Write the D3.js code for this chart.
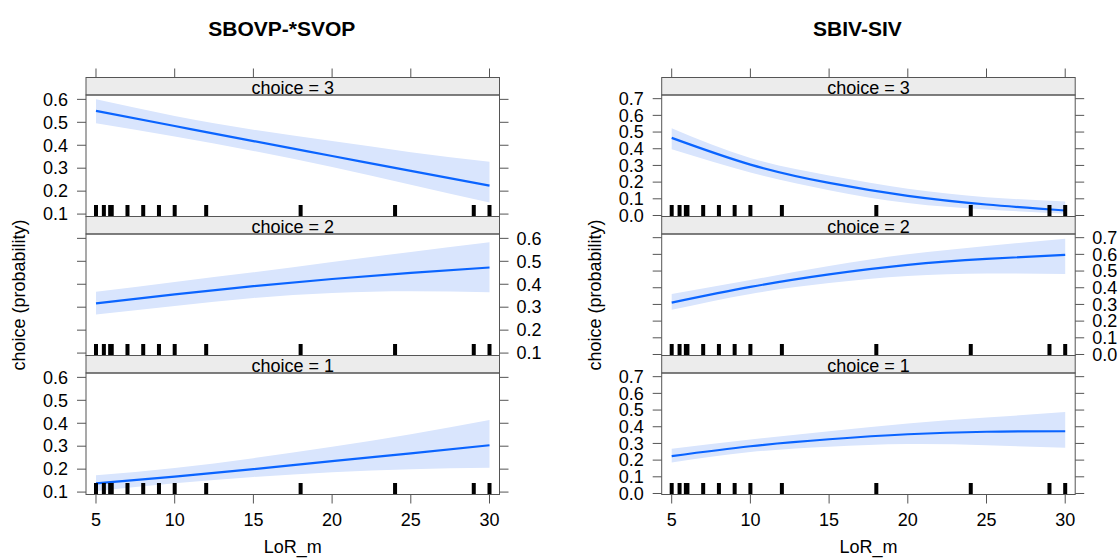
<!DOCTYPE html>
<html>
<head>
<meta charset="utf-8">
<script src="https://cdn.jsdelivr.net/npm/d3@7"></script>
<style>
  body { margin: 0; background: #fff; }
  text { font-family: "Liberation Sans", Arial, sans-serif; fill: #000; }
</style>
</head>
<body>
<script>
// effect plots, LoR_m vs predicted choice probability

var w = 1120;
var h = 560;

const lorGrid = [5, 10, 15, 20, 25, 30];
const lorTicks = [5, 10, 15, 20, 25, 30];
const rugLoR = [5, 5.5, 5.9, 6, 7, 8, 9, 10, 12, 18, 24, 29, 30];
const choices = ["choice = 3", "choice = 2", "choice = 1"];

const sbovpTicks = [0.1, 0.2, 0.3, 0.4, 0.5, 0.6];
const sbovpFit3 = [0.550, 0.484, 0.418, 0.353, 0.288, 0.224];
const sbovpLow3 = [0.496, 0.438, 0.375, 0.305, 0.228, 0.150];
const sbovpUp3 = [0.600, 0.528, 0.468, 0.418, 0.370, 0.328];
const sbovpFit2 = [0.317, 0.356, 0.392, 0.423, 0.450, 0.473];
const sbovpLow2 = [0.268, 0.305, 0.340, 0.362, 0.369, 0.365];
const sbovpUp2 = [0.367, 0.410, 0.452, 0.497, 0.541, 0.583];
const sbovpFit1 = [0.138, 0.167, 0.200, 0.235, 0.269, 0.304];
const sbovpLow1 = [0.105, 0.138, 0.166, 0.187, 0.200, 0.206];
const sbovpUp1 = [0.173, 0.205, 0.248, 0.298, 0.352, 0.414];

const sbivTicks = [0.0, 0.1, 0.2, 0.3, 0.4, 0.5, 0.6, 0.7];
const sbivFit3 = [0.465, 0.305, 0.195, 0.118, 0.066, 0.030];
const sbivLow3 = [0.397, 0.258, 0.152, 0.075, 0.036, 0.010];
const sbivUp3 = [0.523, 0.345, 0.240, 0.160, 0.110, 0.084];
const sbivFit2 = [0.311, 0.405, 0.480, 0.537, 0.573, 0.597];
const sbivLow2 = [0.268, 0.363, 0.428, 0.470, 0.485, 0.482];
const sbivUp2 = [0.363, 0.446, 0.530, 0.600, 0.650, 0.694];
const sbivFit1 = [0.224, 0.283, 0.325, 0.355, 0.370, 0.373];
const sbivLow1 = [0.185, 0.248, 0.280, 0.296, 0.289, 0.274];
const sbivUp1 = [0.268, 0.323, 0.373, 0.420, 0.455, 0.488];

var stripTop = 77.5;
var stripH = 17.5;
var panelH = 121.5;
var frameW = 413.5;
var tickLen = 9;
var lineCol = "#0a64ff";
var bandCol = "#d9e5fd";
var axisCol = "#555";

var svg = d3.select("body")
            .append("svg")
            .attr("width", w)
            .attr("height", h);

drawFigure({
  title: "SBOVP-*SVOP", left: 86, yDomain: [0.0895, 0.619], yTicks: sbovpTicks,
  fits: [sbovpFit3, sbovpFit2, sbovpFit1],
  lows: [sbovpLow3, sbovpLow2, sbovpLow1],
  ups: [sbovpUp3, sbovpUp2, sbovpUp1]
});

drawFigure({
  title: "SBIV-SIV", left: 661.7, yDomain: [-0.006, 0.722], yTicks: sbivTicks,
  fits: [sbivFit3, sbivFit2, sbivFit1],
  lows: [sbivLow3, sbivLow2, sbivLow1],
  ups: [sbivUp3, sbivUp2, sbivUp1]
});

function drawFigure(cfg) {
  var g = svg.append("g");
  var x = d3.scaleLinear()
            .domain([4.365, 30.635])
            .range([cfg.left, cfg.left + frameW]);
  var right = cfg.left + frameW;
  var cx = cfg.left + frameW / 2;

  g.append("text")
   .attr("x", cx - 11)
   .attr("y", 36)
   .attr("text-anchor", "middle")
   .style("font-size", "21px")
   .style("font-weight", "bold")
   .text(cfg.title);

  var bottom = stripTop + 3 * (stripH + panelH);

  // y axis label
  g.append("text")
   .attr("transform", "translate(" + (cfg.left - 61) + "," + 295 + ") rotate(-90)")
   .attr("text-anchor", "middle")
   .style("font-size", "18px")
   .text("choice (probability)");

  // x axis label
  g.append("text")
   .attr("x", cx)
   .attr("y", 553)
   .attr("text-anchor", "middle")
   .style("font-size", "18px")
   .text("LoR_m");

  // top ticks, no labels
  g.selectAll(".ttick")
   .data(lorTicks)
   .enter()
   .append("line")
   .attr("x1", function(d) { return x(d); })
   .attr("x2", function(d) { return x(d); })
   .attr("y1", stripTop - tickLen)
   .attr("y2", stripTop)
   .attr("stroke", axisCol);

  // bottom ticks with labels
  g.selectAll(".btick")
   .data(lorTicks)
   .enter()
   .append("line")
   .attr("x1", function(d) { return x(d); })
   .attr("x2", function(d) { return x(d); })
   .attr("y1", bottom)
   .attr("y2", bottom + tickLen)
   .attr("stroke", axisCol);

  g.selectAll(".blab")
   .data(lorTicks)
   .enter()
   .append("text")
   .attr("x", function(d) { return x(d); })
   .attr("y", 526)
   .attr("text-anchor", "middle")
   .style("font-size", "18px")
   .text(function(d) { return d; });

  choices.forEach(function(lab, i) {
    var sTop = stripTop + i * (stripH + panelH);
    var pTop = sTop + stripH;
    var pBot = pTop + panelH;
    var y = d3.scaleLinear().domain(cfg.yDomain).range([pBot, pTop]);

    var rows = lorGrid.map(function(v, k) {
      return { lor: v, fit: cfg.fits[i][k], lo: cfg.lows[i][k], up: cfg.ups[i][k] };
    });

    g.append("path")
     .datum(rows)
     .attr("fill", bandCol)
     .attr("d", d3.area()
                  .curve(d3.curveNatural)
                  .x(function(d) { return x(d.lor); })
                  .y0(function(d) { return y(d.lo); })
                  .y1(function(d) { return y(d.up); }));

    g.append("path")
     .datum(rows)
     .attr("fill", "none")
     .attr("stroke", lineCol)
     .attr("stroke-width", 2.2)
     .attr("d", d3.line()
                  .curve(d3.curveNatural)
                  .x(function(d) { return x(d.lor); })
                  .y(function(d) { return y(d.fit); }));

    // rug
    g.selectAll(".rug" + i)
     .data(rugLoR)
     .enter()
     .append("rect")
     .attr("x", function(d) { return x(d) - 2; })
     .attr("y", pBot - 11.5)
     .attr("width", 4)
     .attr("height", 11.5)
     .attr("fill", "#000");

    // strip
    g.append("rect")
     .attr("x", cfg.left)
     .attr("y", sTop)
     .attr("width", frameW)
     .attr("height", stripH)
     .attr("fill", "#ececec")
     .attr("stroke", axisCol);

    g.append("text")
     .attr("x", cx)
     .attr("y", sTop + stripH - 1.5)
     .attr("text-anchor", "middle")
     .style("font-size", "18px")
     .text(lab);

    // panel frame
    g.append("rect")
     .attr("x", cfg.left)
     .attr("y", pTop)
     .attr("width", frameW)
     .attr("height", panelH)
     .attr("fill", "none")
     .attr("stroke", axisCol);

    // y ticks both sides
    g.selectAll(".ytl" + i)
     .data(cfg.yTicks)
     .enter()
     .append("line")
     .attr("x1", cfg.left - tickLen)
     .attr("x2", cfg.left)
     .attr("y1", function(d) { return y(d); })
     .attr("y2", function(d) { return y(d); })
     .attr("stroke", axisCol);

    g.selectAll(".ytr" + i)
     .data(cfg.yTicks)
     .enter()
     .append("line")
     .attr("x1", right)
     .attr("x2", right + tickLen)
     .attr("y1", function(d) { return y(d); })
     .attr("y2", function(d) { return y(d); })
     .attr("stroke", axisCol);

    var onRight = (i == 1);
    g.selectAll(".ylab" + i)
     .data(cfg.yTicks)
     .enter()
     .append("text")
     .attr("x", onRight ? right + tickLen + 8 : cfg.left - tickLen - 9)
     .attr("y", function(d) { return y(d); })
     .attr("dy", "0.35em")
     .attr("text-anchor", onRight ? "start" : "end")
     .style("font-size", "18px")
     .text(function(d) { return d.toFixed(1); });
  });
}
</script>
</body>
</html>
